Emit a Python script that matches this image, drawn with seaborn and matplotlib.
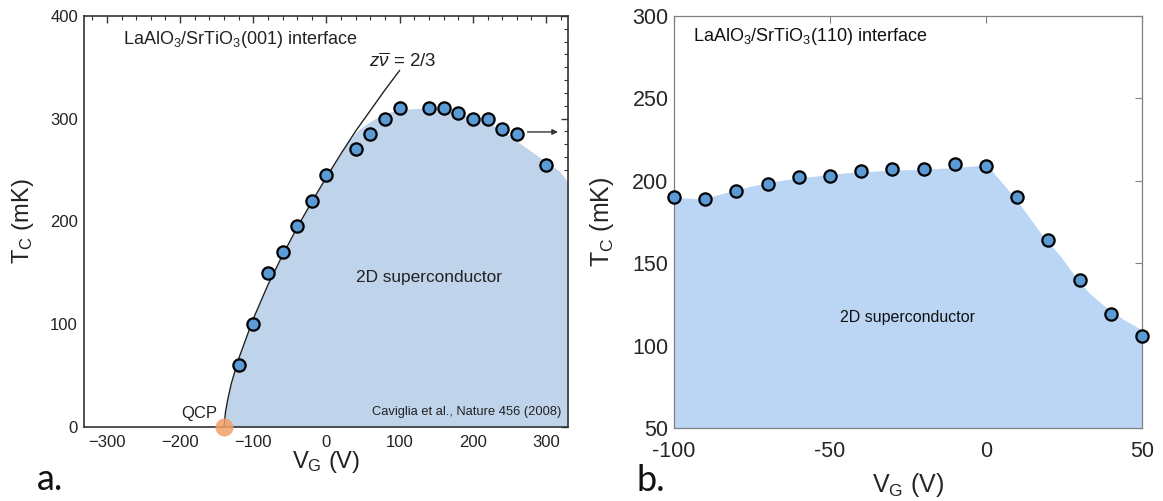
import numpy as np
import matplotlib
matplotlib.use("Agg")
import matplotlib.pyplot as plt
from matplotlib.ticker import MultipleLocator, FuncFormatter
import seaborn as sns

# panel a: LaAlO3/SrTiO3(001), Caviglia et al.
vg_001 = [-120, -100, -80, -60, -40, -20, 0, 40, 60, 80, 100, 140, 160, 180, 200, 220, 240, 260, 300]
tc_001 = [60, 100, 150, 170, 195, 220, 245, 270, 285, 300, 310, 310, 310, 305, 300, 300, 290, 285, 255]

# z*nu = 2/3 scaling curve
fit_vg = [-140, -138, -135, -130, -120, -100, -80, -60, -40, -20, 0, 20, 40, 60, 80, 100]
fit_tc = [0, 14, 26, 42, 66, 105, 138, 167, 194, 219, 243, 266, 288, 308, 328, 347]

# edge of the shaded dome
dome_vg = [-140, -138, -135, -130, -120, -100, -80, -60, -40, -20, 0, 20, 30, 42, 55, 70, 87, 105,
           128, 150, 173, 192, 210, 230, 246, 264, 282, 300, 318, 330]
dome_tc = [0, 14, 26, 42, 66, 105, 138, 167, 194, 219, 243, 266, 278, 288, 295, 301.5, 306.5, 309,
           310, 309.5, 306.5, 303, 298.5, 292.5, 285.5, 276, 267, 258, 249, 238]

# panel b: LaAlO3/SrTiO3(110)
vg_110 = [-100, -90, -80, -70, -60, -50, -40, -30, -20, -10, 0, 10, 20, 30, 40, 50]
tc_110 = [190, 189, 194, 198, 202, 203, 206, 207, 207, 210, 209, 190, 164, 140, 119, 106]

shade_vg = [-100, -92, -86, -76, -65, -54, -44, -30, -20, -10, -1, 1.5, 10, 18, 24, 29, 33, 38, 44, 50]
shade_tc = [190, 189, 191.5, 196.5, 200.5, 203, 205, 206.5, 207, 208, 209.5, 207, 188, 167, 154, 141,
            132, 124, 116, 109.5]

sns.set_style("white")
plt.rcParams["font.family"] = ["Liberation Sans", "DejaVu Sans"]
plt.rcParams["mathtext.fontset"] = "custom"
plt.rcParams["mathtext.rm"] = "Liberation Sans"
plt.rcParams["mathtext.it"] = "Liberation Sans:italic"

fig = plt.figure(figsize=(11.63, 5.01), dpi=100)
ax1 = fig.add_axes([0.0718, 0.1487, 0.4166, 0.8194])
ax2 = fig.add_axes([0.5795, 0.1457, 0.4024, 0.8224])

pt_color = "#5b9bd5"

# ---- panel a ----
ax1.fill_between(dome_vg, 0, dome_tc, color="#bfd3ea", lw=0, zorder=1)
sns.lineplot(x=fit_vg, y=fit_tc, sort=False, color="#222222", lw=1.0, ax=ax1, zorder=3)
sns.scatterplot(x=vg_001, y=tc_001, ax=ax1, s=78, color=pt_color, edgecolor="black",
                linewidth=1.6, zorder=5, clip_on=False)
ax1.plot([-140], [0], "o", ms=13, color="#f2a066", alpha=0.85, mec="none", zorder=6, clip_on=False)

ax1.set_xlim(-332, 330)
ax1.set_ylim(0, 400)
ax1.xaxis.set_major_locator(MultipleLocator(100))
ax1.xaxis.set_minor_locator(MultipleLocator(20))
ax1.yaxis.set_major_locator(MultipleLocator(100))
ax1.yaxis.set_minor_locator(MultipleLocator(12.5))
ax1.xaxis.set_major_formatter(FuncFormatter(lambda v, p: f"{int(v)}".replace("-", "\u2212")))
ax1.tick_params(which="both", direction="in", top=True, right=True, color="#333333",
                labelsize=12, labelcolor="#222222")
ax1.tick_params(which="major", length=5, width=1)
ax1.tick_params(which="minor", length=3, width=0.8)
ax1.tick_params(axis="x", pad=6)
ax1.tick_params(axis="y", pad=4)
for sp in ax1.spines.values():
    sp.set_color("#333333")
    sp.set_linewidth(1.2)

ax1.set_xlabel("V$_\\mathrm{G}$ (V)", fontsize=17, color="#222222")
ax1.set_ylabel("T$_\\mathrm{C}$ (mK)", fontsize=17, color="#222222")
ax1.xaxis.set_label_coords(0.5, -0.055)
ax1.yaxis.set_label_coords(-0.098, 0.5)

ax1.text(-278, 377, "LaAlO$_3$/SrTiO$_3$(001) interface", fontsize=13, va="center", color="#222222")
ax1.text(58, 355, "$z\\overline{\\nu}$ = 2/3", fontsize=13.5, va="center", color="#222222")
ax1.text(140, 145, "2D superconductor", fontsize=12.4, ha="center", va="center", color="#222222")
ax1.text(321, 14, "Caviglia et al., Nature 456 (2008)", fontsize=9.3, ha="right", va="center",
         color="#222222")
ax1.text(-149, 13, "QCP", fontsize=12, ha="right", va="center", color="#222222")
ax1.annotate("", xy=(320, 287), xytext=(271, 287),
             arrowprops=dict(arrowstyle="-|>", color="#333333", lw=1, mutation_scale=8))

# ---- panel b ----
ax2.fill_between(shade_vg, 0, shade_tc, color="#bad6f4", lw=0, zorder=1)
sns.scatterplot(x=vg_110, y=tc_110, ax=ax2, s=78, color=pt_color, edgecolor="black",
                linewidth=1.6, zorder=5, clip_on=False)

ax2.set_xlim(-100, 50)
ax2.set_ylim(50, 300)
ax2.xaxis.set_major_locator(MultipleLocator(50))
ax2.yaxis.set_major_locator(MultipleLocator(50))
ax2.xaxis.set_major_formatter(FuncFormatter(lambda v, p: f"{int(v)}"))
ax2.tick_params(which="major", direction="in", top=True, right=True, length=5, width=0.8,
                color="#808080", labelsize=15.5, labelcolor="#262626")
ax2.tick_params(axis="x", pad=9)
ax2.tick_params(axis="y", pad=4)
for sp in ax2.spines.values():
    sp.set_color("#808080")
    sp.set_linewidth(0.9)

ax2.set_xlabel("V$_\\mathrm{G}$ (V)", fontsize=18, color="#262626")
ax2.set_ylabel("T$_\\mathrm{C}$ (mK)", fontsize=18, color="#262626")
ax2.xaxis.set_label_coords(0.5, -0.105)
ax2.yaxis.set_label_coords(-0.124, 0.5)

ax2.text(-94, 287.5, "LaAlO$_3$/SrTiO$_3$(110) interface", fontsize=13, va="center", color="#111111")
ax2.text(-25, 117, "2D superconductor", fontsize=11.5, ha="center", va="center", color="#111111")

fig.text(0.032, 0.022, "a.", fontsize=26, family=["Lato", "DejaVu Sans"], va="baseline", color="#111111")
fig.text(0.547, 0.019, "b.", fontsize=26, family=["Lato", "DejaVu Sans"], va="baseline", color="#111111")

fig.savefig("out.png", dpi=100)
plt.close(fig)
